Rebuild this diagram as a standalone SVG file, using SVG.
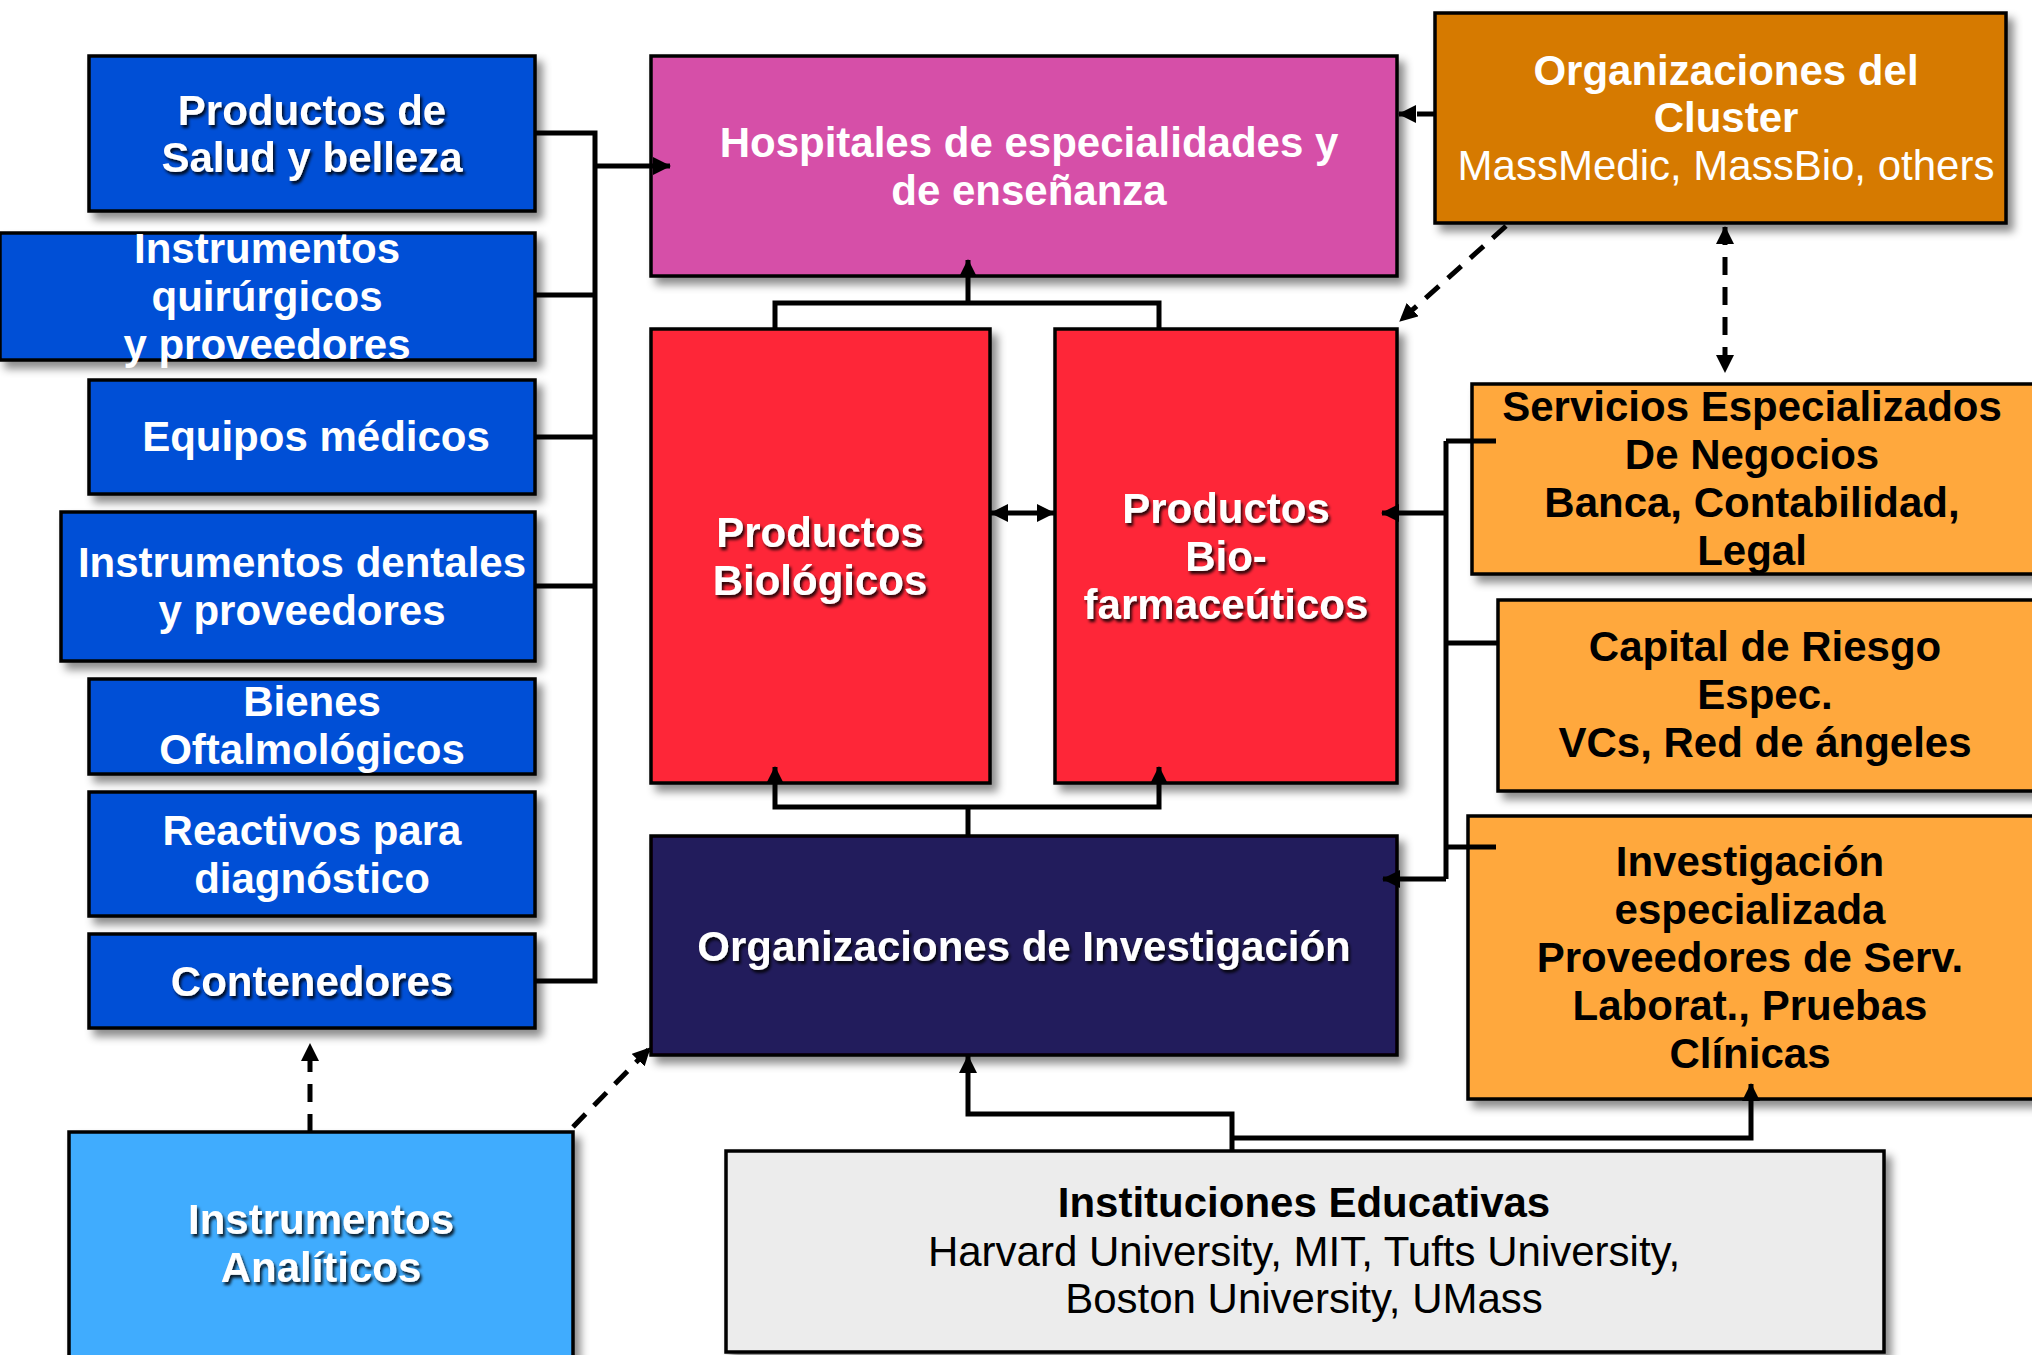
<svg xmlns="http://www.w3.org/2000/svg" width="2032" height="1355" viewBox="0 0 2032 1355">
<defs>
<filter id="bs" x="-10%" y="-10%" width="125%" height="130%">
<feDropShadow dx="6" dy="7" stdDeviation="4" flood-color="#000" flood-opacity="0.45"/>
</filter>
<filter id="ts" x="-10%" y="-20%" width="120%" height="150%">
<feDropShadow dx="2" dy="3" stdDeviation="1.5" flood-color="#000" flood-opacity="0.85"/>
</filter>
<marker id="ah" viewBox="0 0 18 18" markerWidth="18" markerHeight="18" refX="17" refY="9" orient="auto-start-reverse" markerUnits="userSpaceOnUse">
<path d="M0,0 L18,9 L0,18 z" fill="#000"/>
</marker>
</defs>
<style>
rect.n{stroke:#000;stroke-width:3.5;filter:url(#bs)}
text{font-family:"Liberation Sans",Arial,Helvetica,sans-serif;font-size:42px;text-anchor:middle}
.w{fill:#fff;font-weight:bold}
.k{fill:#000;font-weight:bold}
.r{fill:#000;font-weight:normal}
.rw{fill:#fff;font-weight:normal}
.sh{filter:url(#ts)}
.c path{fill:none;stroke:#000;stroke-width:5}
.c path.d{stroke-dasharray:18 12}
.c path.a{marker-end:url(#ah)}
.c path.aa{marker-start:url(#ah);marker-end:url(#ah)}
</style>
<rect width="2032" height="1355" fill="#fff"/>

<g id="salud">
<rect class="n" x="89" y="56" width="446" height="155" fill="#0450D6"/>
<text class="w sh"><tspan x="312" y="125">Productos de</tspan><tspan x="312" y="172">Salud y belleza</tspan></text>
</g>
<g id="quirurgicos">
<rect class="n" x="0" y="233" width="535" height="127" fill="#0450D6"/>
<text class="w"><tspan x="267" y="263">Instrumentos</tspan><tspan x="267" y="311">quirúrgicos</tspan><tspan x="267" y="359">y proveedores</tspan></text>
</g>
<g id="equipos">
<rect class="n" x="89" y="380" width="446" height="114" fill="#0450D6"/>
<text class="w"><tspan x="316" y="451">Equipos médicos</tspan></text>
</g>
<g id="dentales">
<rect class="n" x="61" y="512" width="474" height="149" fill="#0450D6"/>
<text class="w"><tspan x="302" y="577">Instrumentos dentales</tspan><tspan x="302" y="625">y proveedores</tspan></text>
</g>
<g id="oftalmologicos">
<rect class="n" x="89" y="679" width="446" height="95" fill="#0450D6"/>
<text class="w"><tspan x="312" y="716">Bienes</tspan><tspan x="312" y="764">Oftalmológicos</tspan></text>
</g>
<g id="reactivos">
<rect class="n" x="89" y="792" width="446" height="124" fill="#0450D6"/>
<text class="w"><tspan x="312" y="845">Reactivos para</tspan><tspan x="312" y="893">diagnóstico</tspan></text>
</g>
<g id="contenedores">
<rect class="n" x="89" y="934" width="446" height="94" fill="#0450D6"/>
<text class="w sh"><tspan x="312" y="996">Contenedores</tspan></text>
</g>
<g id="analiticos">
<rect class="n" x="69" y="1132" width="504" height="240" fill="#3FACFE"/>
<text class="w sh"><tspan x="321" y="1234">Instrumentos</tspan><tspan x="321" y="1282">Analíticos</tspan></text>
</g>

<g id="hospitales">
<rect class="n" x="651" y="56" width="746" height="220" fill="#D64FA8"/>
<text class="w"><tspan x="1029" y="157">Hospitales de especialidades y</tspan><tspan x="1029" y="205">de enseñanza</tspan></text>
</g>
<g id="biologicos">
<rect class="n" x="651" y="329" width="339" height="454" fill="#FE2837"/>
<text class="w sh"><tspan x="820" y="547">Productos</tspan><tspan x="820" y="595">Biológicos</tspan></text>
</g>
<g id="biofarmaceuticos">
<rect class="n" x="1055" y="329" width="342" height="454" fill="#FE2837"/>
<text class="w sh"><tspan x="1226" y="523">Productos</tspan><tspan x="1226" y="571">Bio-</tspan><tspan x="1226" y="619">farmaceúticos</tspan></text>
</g>
<g id="investigacion">
<rect class="n" x="651" y="836" width="746" height="219" fill="#201A5B"/>
<text class="w sh"><tspan x="1024" y="961">Organizaciones de Investigación</tspan></text>
</g>
<g id="educativas">
<rect class="n" x="726" y="1151" width="1158" height="201" fill="#ECECEC"/>
<text><tspan class="k" x="1304" y="1217">Instituciones Educativas</tspan><tspan class="r" x="1304" y="1266">Harvard University, MIT, Tufts University,</tspan><tspan class="r" x="1304" y="1313">Boston University, UMass</tspan></text>
</g>

<g id="cluster">
<rect class="n" x="1435" y="13" width="571" height="210" fill="#D67A00"/>
<text><tspan class="w" x="1726" y="85">Organizaciones del</tspan><tspan class="w" x="1726" y="132">Cluster</tspan><tspan class="rw" x="1726" y="180">MassMedic, MassBio, others</tspan></text>
</g>
<g id="servicios">
<rect class="n" x="1472" y="384" width="570" height="190" fill="#FFA83E"/>
<text class="k"><tspan x="1752" y="421">Servicios Especializados</tspan><tspan x="1752" y="469">De Negocios</tspan><tspan x="1752" y="517">Banca, Contabilidad,</tspan><tspan x="1752" y="565">Legal</tspan></text>
</g>
<g id="capital">
<rect class="n" x="1498" y="600" width="544" height="191" fill="#FFA83E"/>
<text class="k"><tspan x="1765" y="661">Capital de Riesgo</tspan><tspan x="1765" y="709">Espec.</tspan><tspan x="1765" y="757">VCs, Red de ángeles</tspan></text>
</g>
<g id="especializada">
<rect class="n" x="1468" y="816" width="574" height="283" fill="#FFA83E"/>
<text class="k"><tspan x="1750" y="876">Investigación</tspan><tspan x="1750" y="924">especializada</tspan><tspan x="1750" y="972">Proveedores de Serv.</tspan><tspan x="1750" y="1020">Laborat., Pruebas</tspan><tspan x="1750" y="1068">Clínicas</tspan></text>
</g>

<g id="connectors" class="c">
<path d="M535,133 H595 V981 H535"/>
<path d="M535,295 H595 M535,437 H595 M535,586 H595"/>
<path class="a" d="M595,166 H670"/>
<path d="M775,329 V303 H1159 V329"/>
<path class="a" d="M968,303 V260"/>
<path d="M968,836 V807"/>
<path class="a" d="M968,807 H775 V767"/>
<path class="a" d="M968,807 H1159 V767"/>
<path class="aa" d="M991,513 H1054"/>
<path d="M1446,441 V879"/>
<path d="M1446,441 H1496 M1446,643 H1498 M1446,847 H1496"/>
<path class="a" d="M1446,513 H1382"/>
<path class="a" d="M1446,879 H1383"/>
<path class="a" d="M1232,1151 V1114 H968 V1056"/>
<path class="a" d="M1232,1138 H1751 V1084"/>
<path class="d a" d="M1435,114 H1399"/>
<path class="d a" d="M1506,226 L1400,321"/>
<path class="d aa" d="M1725,227 V372"/>
<path class="d a" d="M310,1132 V1044"/>
<path class="d a" d="M573,1127 L650,1048"/>
</g>
</svg>
